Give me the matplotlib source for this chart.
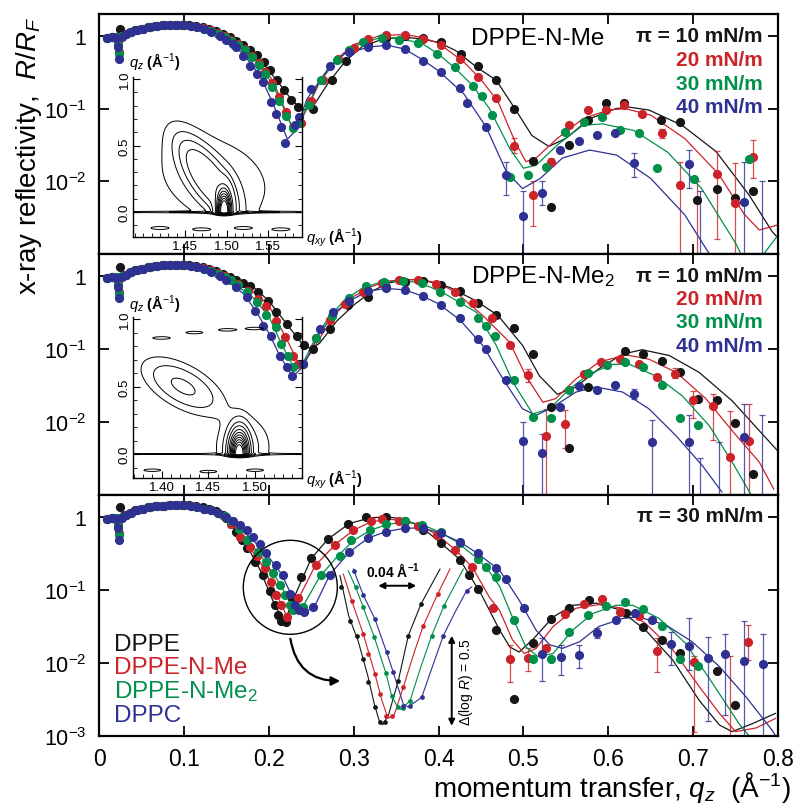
import numpy as np
import matplotlib
matplotlib.use('Agg')
import matplotlib.pyplot as plt
from matplotlib.patches import Ellipse, FancyArrowPatch
from matplotlib.ticker import NullLocator, MultipleLocator

plt.rcParams['font.family'] = ['Liberation Sans', 'DejaVu Sans']
plt.rcParams['mathtext.fontset'] = 'custom'
plt.rcParams['mathtext.rm'] = 'Liberation Sans'
plt.rcParams['mathtext.it'] = 'Liberation Sans:italic'
plt.rcParams['mathtext.bf'] = 'Liberation Sans:bold'

# ---------------- colours ----------------
C_K, C_R, C_G, C_B = '#161616', '#cc2229', '#00904a', '#2e3192'

# ================= DATA (log10 of R/R_F) =================
# ---- top panel: DPPE-N-Me, pi = 10, 20, 30, 40 mN/m ----
top_k_q = [.010,.015,.020,.025,.030,.036,.042,.050,.058,.066,.074,.082,.090,.098,.106,.114,.122,.130,.138,.146,.154,.162,.170,.178,.186,.194,.202,.210,.218,.226,.234,.252,.274,.291,.317,.338,.360,.382,.403,.427,.446,.468,.489,.511,.533,.554,.576,.597,.619,.662,.684,.705,.728,.749,.771]
top_k_logR = [-.03,-.02,-.01,.10,.02,.05,.08,.10,.12,.135,.145,.15,.155,.155,.15,.14,.12,.10,.07,.03,-.01,-.064,-.12,-.19,-.26,-.36,-.47,-.6,-.74,-.88,-.98,-1.0,-.61,-.34,-.12,-.03,.0,-.03,-.087,-.25,-.42,-.6,-1.0,-1.72,-2.36,-1.5,-1.16,-.92,-.92,-1.16,-1.18,-2.26,-2.10,-2.23,-2.13]
top_r_q = [.010,.015,.020,.022,.024,.027,.032,.038,.045,.052,.060,.068,.076,.084,.092,.100,.108,.116,.124,.132,.140,.148,.156,.164,.172,.180,.188,.196,.204,.212,.220,.228,.238,.250,.264,.282,.300,.317,.338,.360,.382,.403,.425,.446,.468,.489,.511,.533,.554,.576,.597,.619,.640,.663,.684,.728,.749,.771]
top_r_logR = [-.03,-.02,-.02,-.1,-.22,.0,.02,.05,.08,.10,.12,.135,.145,.15,.155,.15,.14,.125,.105,.08,.04,.0,-.05,-.11,-.18,-.27,-.37,-.5,-.65,-.84,-1.05,-1.25,-1.2,-.9,-.6,-.32,-.17,-.04,.014,.018,-.04,-.13,-.32,-.57,-.86,-1.52,-2.19,-1.73,-1.23,-1.02,-1.02,-.945,-1.08,-1.34,-2.05,-1.90,-2.30,-1.66]
top_g_q = [.010,.015,.020,.022,.024,.027,.032,.038,.045,.052,.060,.068,.076,.084,.092,.100,.108,.116,.124,.132,.140,.148,.156,.164,.172,.180,.188,.196,.204,.212,.220,.228,.236,.247,.262,.280,.295,.311,.333,.354,.376,.398,.420,.441,.451,.463,.484,.506,.527,.549,.571,.593,.614,.636,.658,.701,.766]
top_g_logR = [-.03,-.02,-.02,-.12,-.25,.0,.02,.05,.08,.10,.12,.135,.145,.15,.155,.15,.14,.125,.10,.07,.03,-.02,-.07,-.13,-.2,-.29,-.4,-.53,-.7,-.9,-1.1,-1.27,-1.2,-.95,-.6,-.33,-.2,-.087,-.03,-.05,-.10,-.25,-.43,-.69,-.83,-1.09,-1.94,-1.91,-1.80,-1.32,-1.18,-1.11,-1.30,-1.34,-1.82,-1.97,-1.70]
top_b_q = [.010,.015,.020,.022,.024,.027,.032,.038,.045,.052,.060,.068,.076,.084,.092,.100,.108,.116,.124,.132,.142,.150,.158,.162,.170,.178,.186,.193,.203,.209,.215,.219,.231,.236,.250,.272,.295,.317,.338,.360,.382,.403,.425,.434,.456,.480,.499,.522,.543,.565,.587,.608,.630,.695,.760]
top_b_logR = [-.03,-.02,-.03,-.15,-.32,-.02,.02,.05,.08,.10,.12,.135,.145,.15,.15,.145,.135,.12,.09,.06,.004,-.05,-.11,-.155,-.28,-.41,-.52,-.63,-.91,-1.07,-1.25,-1.48,-1.23,-1.11,-.73,-.41,-.22,-.155,-.13,-.18,-.34,-.50,-.72,-.92,-1.26,-1.91,-2.48,-2.16,-1.57,-1.45,-1.37,-1.33,-1.75,-1.76,-2.29]

top_k_fit_q = [.10,.13,.15,.17,.19,.21,.225,.24,.255,.27,.29,.31,.335,.36,.38,.40,.42,.445,.468,.49,.51,.53,.55,.578,.609,.625,.648,.687,.727,.766,.793,.80]
top_k_fit_logR = [.15,.1,.02,-.12,-.33,-.62,-.85,-1.03,-.92,-.65,-.35,-.15,-.04,-.02,-.04,-.09,-.2,-.43,-.61,-1.0,-1.37,-1.52,-1.41,-1.14,-1.0,-.98,-1.02,-1.23,-1.59,-2.19,-2.69,-2.78]
top_r_fit_q = [.10,.13,.15,.17,.19,.205,.218,.228,.24,.26,.28,.30,.33,.36,.38,.40,.43,.45,.47,.49,.503,.515,.54,.57,.60,.62,.65,.69,.73,.76,.778,.80]
top_r_fit_logR = [.15,.09,.0,-.15,-.37,-.62,-.98,-1.27,-1.12,-.64,-.32,-.12,.0,.02,-.02,-.1,-.36,-.6,-.9,-1.45,-1.73,-1.68,-1.41,-1.14,-1.02,-1.0,-1.09,-1.41,-1.9,-2.45,-2.67,-2.6]
top_g_fit_q = [.10,.13,.15,.17,.19,.205,.218,.228,.24,.26,.28,.30,.33,.35,.38,.40,.42,.44,.46,.484,.50,.515,.54,.57,.593,.63,.67,.71,.75,.765,.78,.80]
top_g_fit_logR = [.15,.09,.0,-.17,-.4,-.68,-1.0,-1.27,-1.1,-.62,-.33,-.14,-.03,-.03,-.1,-.25,-.45,-.68,-1.0,-1.55,-1.82,-1.78,-1.5,-1.23,-1.21,-1.3,-1.6,-2.1,-2.85,-3.2,-3.05,-2.74]
top_b_fit_q = [.10,.13,.15,.17,.19,.205,.215,.222,.232,.245,.27,.29,.32,.34,.36,.38,.40,.43,.456,.48,.499,.52,.546,.578,.61,.65,.69,.717,.73]
top_b_fit_logR = [.15,.07,-.04,-.25,-.55,-.93,-1.22,-1.42,-1.3,-.87,-.45,-.24,-.15,-.13,-.18,-.32,-.48,-.8,-1.25,-1.87,-2.1,-1.96,-1.68,-1.57,-1.64,-1.96,-2.46,-2.96,-3.2]

top_r_err_q = [.489,.511,.533,.663,.684,.705,.728,.749,.771]
top_r_err_lo = [-1.61,-2.62,-1.78,-1.40,-3.3,-3.3,-2.79,-3.3,-1.96]
top_r_err_hi = [-1.40,-2.0,-1.68,-1.28,-1.73,-2.0,-1.59,-1.75,-1.43]
top_b_err_q = [.480,.499,.522,.630,.695,.708,.760,.781]
top_b_err_lo = [-2.19,-3.3,-2.32,-1.94,-2.09,-3.3,-3.3,-3.3]
top_b_err_hi = [-1.73,-2.14,-2.0,-1.61,-1.57,-2.14,-1.73,-2.0]

# ---- middle panel: DPPE-N-Me2 ----
mid_k_q = [.010,.015,.020,.025,.030,.036,.042,.050,.058,.066,.074,.082,.090,.098,.106,.114,.122,.130,.138,.146,.154,.162,.170,.178,.187,.199,.209,.221,.233,.242,.252,.272,.293,.317,.338,.360,.382,.403,.425,.446,.468,.489,.511,.533,.554,.576,.620,.641,.663,.684,.706,.728,.749,.771]
mid_k_logR = [-.03,-.02,-.01,.12,.02,.05,.08,.10,.12,.135,.145,.15,.155,.155,.15,.14,.12,.10,.07,.03,-.01,-.06,-.1,-.14,-.22,-.34,-.5,-.66,-.82,-.95,-1.0,-.73,-.4,-.29,-.15,-.08,-.07,-.12,-.2,-.37,-.54,-.71,-1.07,-1.79,-2.35,-1.52,-1.03,-1.07,-1.16,-1.31,-1.68,-1.70,-2.01,-2.71]
mid_r_q = [.010,.015,.020,.022,.024,.027,.032,.038,.045,.052,.060,.068,.076,.084,.092,.100,.108,.116,.124,.132,.140,.148,.156,.164,.176,.187,.197,.209,.219,.229,.234,.240,.256,.272,.290,.311,.333,.354,.376,.397,.419,.441,.463,.484,.506,.527,.549,.571,.592,.614,.636,.657,.679,.700,.723,.744,.766]
mid_r_logR = [-.03,-.02,-.02,-.1,-.22,.0,.02,.05,.08,.10,.12,.135,.145,.15,.155,.15,.14,.125,.105,.08,.04,.0,-.05,-.11,-.2,-.32,-.41,-.61,-.84,-1.09,-1.21,-1.2,-.85,-.6,-.38,-.22,-.09,-.055,-.05,-.105,-.22,-.37,-.57,-.95,-1.36,-2.19,-2.03,-1.34,-1.18,-1.14,-1.21,-1.39,-1.34,-1.70,-1.78,-2.48,-2.26]
mid_g_q = [.010,.015,.020,.022,.024,.027,.032,.038,.045,.052,.060,.068,.076,.084,.092,.100,.108,.116,.124,.132,.140,.148,.156,.164,.174,.186,.197,.209,.215,.223,.229,.240,.256,.275,.295,.315,.336,.358,.381,.402,.425,.446,.456,.467,.489,.511,.533,.554,.576,.598,.620,.641,.663,.684,.706]
mid_g_logR = [-.03,-.02,-.02,-.12,-.25,.0,.02,.05,.08,.10,.12,.135,.145,.15,.155,.15,.14,.125,.10,.07,.03,-.01,-.06,-.12,-.22,-.36,-.54,-.70,-.93,-1.09,-1.25,-1.2,-.85,-.55,-.3,-.14,-.08,-.07,-.10,-.22,-.35,-.58,-.68,-.82,-1.42,-1.93,-1.94,-1.56,-1.33,-1.22,-1.18,-1.25,-1.50,-1.95,-2.04]
mid_b_q = [.010,.015,.020,.022,.024,.027,.032,.038,.045,.052,.060,.068,.076,.084,.092,.100,.108,.116,.124,.132,.142,.150,.162,.174,.184,.193,.203,.213,.221,.227,.240,.260,.276,.295,.317,.338,.360,.382,.403,.425,.446,.456,.479,.500,.522,.543,.565,.587,.608,.630,.651,.695,.760]
mid_b_logR = [-.03,-.02,-.03,-.15,-.30,-.02,.02,.05,.08,.10,.12,.135,.145,.15,.15,.145,.135,.12,.09,.06,.0,-.06,-.15,-.29,-.48,-.68,-.82,-1.09,-1.25,-1.37,-1.2,-.73,-.5,-.34,-.21,-.17,-.19,-.27,-.40,-.57,-.86,-1.0,-1.43,-2.26,-2.43,-1.80,-1.51,-1.56,-1.50,-1.62,-2.27,-2.27,-2.21]

mid_k_fit_q = [.10,.13,.15,.18,.20,.22,.24,.25,.26,.28,.30,.32,.34,.36,.38,.413,.444,.47,.499,.519,.54,.562,.589,.617,.64,.672,.707,.746,.778,.80]
mid_k_fit_logR = [.15,.1,.0,-.13,-.34,-.64,-.94,-1.0,-.92,-.62,-.4,-.22,-.1,-.05,-.05,-.155,-.34,-.54,-.95,-1.37,-1.62,-1.52,-1.27,-1.07,-1.01,-1.09,-1.32,-1.71,-2.12,-2.4]
mid_r_fit_q = [.10,.13,.15,.18,.20,.22,.237,.25,.26,.28,.30,.32,.34,.36,.38,.40,.42,.452,.484,.503,.523,.538,.562,.589,.621,.648,.68,.715,.746,.778,.795]
mid_r_fit_logR = [.15,.1,-.02,-.2,-.4,-.84,-1.24,-1.05,-.85,-.5,-.28,-.15,-.07,-.05,-.05,-.1,-.22,-.54,-.91,-1.37,-1.73,-1.68,-1.41,-1.18,-1.08,-1.14,-1.32,-1.68,-2.12,-2.55,-2.92]
mid_g_fit_q = [.10,.13,.15,.18,.20,.215,.23,.24,.255,.27,.29,.31,.33,.35,.37,.39,.41,.445,.468,.488,.511,.531,.554,.578,.605,.625,.656,.687,.719,.746,.77]
mid_g_fit_logR = [.15,.1,-.03,-.28,-.55,-.93,-1.27,-1.2,-.85,-.58,-.32,-.17,-.09,-.07,-.08,-.15,-.26,-.5,-.95,-1.46,-1.89,-1.82,-1.55,-1.34,-1.21,-1.21,-1.37,-1.64,-2.05,-2.55,-3.03]
mid_b_fit_q = [.10,.13,.15,.17,.185,.20,.213,.228,.24,.26,.28,.295,.317,.338,.36,.38,.40,.425,.452,.476,.499,.515,.534,.562,.585,.617,.648,.68,.711,.734]
mid_b_fit_logR = [.15,.08,-.06,-.24,-.48,-.78,-1.09,-1.38,-1.25,-.78,-.48,-.34,-.21,-.17,-.19,-.27,-.38,-.6,-.95,-1.41,-1.82,-1.91,-1.80,-1.59,-1.52,-1.59,-1.82,-2.19,-2.60,-2.96]

mid_r_err_q = [.506,.527,.549,.679,.700,.723,.744,.766]
mid_r_err_lo = [-1.45,-3.3,-2.36,-1.40,-1.95,-2.24,-3.3,-3.3]
mid_r_err_hi = [-1.28,-1.82,-1.84,-1.26,-1.57,-1.62,-1.85,-1.75]
mid_b_err_q = [.500,.522,.630,.651,.695,.708,.730,.760,.781]
mid_b_err_lo = [-3.3,-3.3,-1.68,-3.3,-3.3,-3.3,-3.3,-3.3,-3.3]
mid_b_err_hi = [-2.0,-2.16,-1.55,-1.97,-1.91,-2.5,-2.27,-1.75,-1.91]

# ---- bottom panel: pi = 30 mN/m, four lipids ----
bot_k_q = [.010,.015,.020,.025,.030,.036,.042,.050,.058,.066,.074,.082,.090,.098,.106,.114,.122,.130,.138,.146,.150,.156,.162,.168,.174,.184,.193,.201,.207,.211,.215,.220,.227,.238,.250,.270,.293,.315,.338,.360,.382,.403,.425,.436,.446,.468,.489,.511,.533,.554,.577,.621,.641,.663,.684,.728,.749]
bot_k_logR = [-.03,-.02,-.01,.14,.03,.06,.09,.11,.13,.145,.155,.16,.165,.165,.16,.15,.13,.11,.08,.03,-.02,-.1,-.2,-.31,-.43,-.61,-.79,-1.02,-1.21,-1.34,-1.43,-1.44,-1.11,-.82,-.56,-.3,-.1,.0,.0,-.05,-.18,-.36,-.59,-.79,-.98,-1.55,-2.50,-1.73,-1.40,-1.25,-1.14,-1.32,-1.51,-1.68,-1.86,-2.11,-2.58]
bot_r_q = [.010,.015,.020,.022,.024,.027,.032,.038,.045,.052,.060,.068,.076,.084,.092,.100,.108,.116,.124,.132,.140,.148,.156,.166,.178,.186,.195,.203,.209,.215,.221,.234,.256,.278,.299,.321,.333,.354,.376,.398,.419,.440,.464,.484,.505,.527,.549,.571,.593,.614,.636,.658,.701,.765]
bot_r_logR = [-.03,-.02,-.02,-.1,-.22,.0,.03,.06,.09,.11,.13,.145,.155,.16,.165,.16,.15,.135,.115,.09,.05,.0,-.1,-.27,-.41,-.54,-.70,-.89,-1.07,-1.21,-1.37,-1.11,-.66,-.38,-.18,-.06,-.03,-.06,-.12,-.25,-.45,-.69,-1.25,-1.94,-1.93,-1.80,-1.33,-1.19,-1.12,-1.30,-1.36,-1.83,-1.99,-1.71]
bot_g_q = [.010,.015,.020,.022,.024,.027,.032,.038,.045,.052,.060,.068,.076,.084,.092,.100,.108,.116,.124,.132,.140,.148,.156,.165,.174,.187,.197,.205,.213,.219,.225,.229,.240,.262,.284,.297,.319,.338,.360,.381,.403,.425,.446,.456,.468,.489,.511,.533,.554,.576,.597,.620,.641,.663,.684,.706]
bot_g_logR = [-.03,-.02,-.02,-.12,-.25,.0,.03,.06,.09,.11,.13,.145,.155,.16,.165,.16,.15,.135,.115,.09,.05,.01,-.05,-.16,-.32,-.48,-.61,-.77,-.93,-1.07,-1.21,-1.27,-1.23,-.79,-.54,-.32,-.18,-.09,-.06,-.11,-.2,-.35,-.57,-.68,-.82,-1.41,-1.94,-1.94,-1.57,-1.34,-1.22,-1.17,-1.26,-1.50,-1.95,-2.04]
bot_b_q = [.010,.015,.020,.022,.024,.027,.032,.038,.045,.052,.060,.068,.076,.084,.092,.100,.108,.116,.124,.132,.140,.150,.158,.166,.174,.182,.190,.197,.209,.217,.225,.231,.236,.242,.252,.272,.295,.317,.338,.360,.382,.403,.425,.446,.468,.479,.501,.522,.544,.565,.587,.609,.631,.652,.674,.695,.717,.738,.760,.782]
bot_b_logR = [-.03,-.02,-.03,-.15,-.32,-.02,.03,.06,.09,.11,.13,.145,.155,.16,.165,.16,.15,.135,.115,.09,.06,.0,-.05,-.11,-.18,-.27,-.37,-.5,-.66,-.79,-1.05,-1.21,-1.27,-1.30,-1.23,-.79,-.48,-.29,-.2,-.155,-.155,-.22,-.34,-.5,-.70,-.85,-1.24,-1.87,-1.92,-1.89,-1.59,-1.41,-1.31,-1.41,-1.74,-1.77,-1.93,-1.88,-1.97,-2.01]

bot_k_fit_q = [.10,.13,.15,.17,.19,.205,.218,.23,.25,.27,.295,.32,.34,.36,.38,.40,.425,.45,.472,.484,.495,.511,.535,.558,.586,.613,.644,.676,.707,.731,.746,.77,.797]
bot_k_fit_logR = [.16,.11,-.03,-.3,-.73,-1.15,-1.45,-1.1,-.57,-.3,-.09,-.01,.0,-.03,-.14,-.33,-.58,-1.05,-1.55,-1.78,-1.85,-1.68,-1.37,-1.21,-1.18,-1.27,-1.55,-1.96,-2.51,-2.85,-2.94,-2.83,-2.69]
bot_r_fit_q = [.10,.13,.15,.17,.19,.205,.222,.235,.255,.28,.30,.32,.34,.36,.38,.40,.42,.44,.46,.472,.487,.501,.515,.535,.562,.589,.617,.644,.676,.707,.731,.75,.774,.797]
bot_r_fit_logR = [.16,.11,.0,-.3,-.62,-.95,-1.38,-1.12,-.66,-.36,-.18,-.07,-.03,-.05,-.12,-.26,-.45,-.69,-1.1,-1.28,-1.68,-1.87,-1.80,-1.50,-1.25,-1.20,-1.25,-1.46,-1.82,-2.32,-2.69,-2.94,-2.89,-2.76]
bot_g_fit_q = [.10,.13,.15,.17,.19,.21,.23,.24,.26,.28,.30,.32,.34,.36,.38,.40,.42,.446,.46,.472,.487,.503,.517,.535,.558,.582,.609,.629,.66,.691,.723,.754,.766]
bot_g_fit_logR = [.16,.11,.0,-.25,-.52,-.86,-1.27,-1.23,-.82,-.55,-.32,-.18,-.1,-.07,-.1,-.2,-.33,-.57,-.75,-.95,-1.37,-1.78,-1.91,-1.87,-1.55,-1.32,-1.21,-1.21,-1.39,-1.73,-2.28,-2.83,-3.0]
bot_b_fit_q = [.10,.13,.15,.18,.20,.215,.228,.242,.255,.272,.295,.317,.338,.36,.38,.40,.425,.446,.472,.495,.515,.531,.546,.566,.589,.617,.636,.668,.699,.731,.762,.793,.80]
bot_b_fit_logR = [.16,.1,.0,-.3,-.55,-.78,-1.1,-1.32,-1.2,-.79,-.48,-.29,-.2,-.155,-.15,-.21,-.34,-.5,-.73,-1.14,-1.55,-1.75,-1.80,-1.71,-1.50,-1.39,-1.37,-1.48,-1.71,-2.05,-2.46,-2.92,-3.05]

bot_r_err_q = [.484,.505,.658,.701,.744,.765]
bot_r_err_lo = [-2.26,-2.11,-2.13,-2.94,-3.3,-1.96]
bot_r_err_hi = [-1.75,-1.80,-1.66,-1.91,-1.90,-1.48]
bot_b_err_q = [.522,.544,.565,.587,.674,.695,.717,.738,.760,.782]
bot_b_err_lo = [-2.25,-2.16,-2.07,-1.66,-2.03,-2.10,-2.79,-2.71,-3.01,-3.01]
bot_b_err_hi = [-1.66,-1.75,-1.75,-1.52,-1.58,-1.39,-1.64,-1.60,-1.43,-1.60]

# ---- magnified view of the first minimum (bottom panel) ----
mag_k_q = [.172,.1814,.1885,.1954,.2007,.2077,.213,.2183,.2323,.2428,.2562]
mag_k_logR = [-.682,-.867,-.95,-1.08,-1.21,-1.348,-1.432,-1.432,-1.20,-.95,-.774]
mag_k_fit_q = [.1709,.18,.19,.20,.207,.212,.216,.222,.2323,.2428,.2562,.2762]
mag_k_fit_logR = [-.617,-.84,-.98,-1.17,-1.33,-1.42,-1.445,-1.39,-1.20,-.95,-.774,-.58]
mag_r_q = [.1832,.1954,.2007,.2077,.213,.219,.2253,.2375,.2586,.2737]
mag_r_logR = [-.756,-.941,-1.052,-1.163,-1.274,-1.398,-1.398,-1.237,-.895,-.719]
mag_r_fit_q = [.1744,.1832,.1954,.2077,.215,.2215,.228,.2375,.2486,.2586,.2737,.2867]
mag_r_fit_logR = [-.608,-.756,-.941,-1.163,-1.31,-1.41,-1.39,-1.237,-1.05,-.895,-.719,-.58]
mag_g_q = [.1874,.1954,.2071,.2193,.2253,.2316,.2375,.2446,.2674,.2804]
mag_g_logR = [-.682,-.793,-.96,-1.16,-1.284,-1.348,-1.352,-1.312,-.95,-.784]
mag_g_fit_q = [.1796,.1874,.1954,.2071,.2193,.2253,.2316,.235,.2446,.2556,.2674,.2804,.3007]
mag_g_fit_logR = [-.59,-.682,-.793,-.96,-1.16,-1.284,-1.348,-1.36,-1.312,-1.13,-.95,-.784,-.58]
mag_b_q = [.1856,.1954,.2077,.2200,.2270,.2375,.2446,.2569,.2797,.3042]
mag_b_logR = [-.59,-.725,-.858,-1.043,-1.154,-1.339,-1.339,-1.293,-.95,-.70]
mag_b_fit_q = [.1849,.1954,.2077,.2200,.2270,.2375,.242,.2446,.2569,.2683,.2797,.2920,.3042,.3095]
mag_b_fit_logR = [-.58,-.725,-.858,-1.043,-1.154,-1.33,-1.345,-1.339,-1.293,-1.12,-.95,-.82,-.70,-.68]

# ---- GIXD inset peak descriptions: (qxy, qz, width_xy, width_z, amplitude, tilt) ----
gix1_peaks = [(1.497, 0.0, 0.0055, 0.10, 1.0, 0.0),
              (1.478, 0.25, 0.015, 0.20, 0.16, -0.09),
              (1.485, 0.25, 0.05, 0.25, 0.05, -0.05)]
gix1_noise = [(1.42, -0.12), (1.47, -0.13), (1.52, -0.12), (1.565, -0.13)]
gix1_levels = [0.025, 0.05, 0.08, 0.12, 0.25, 0.35, 0.45, 0.55, 0.65, 0.75, 0.85]
gix2_peaks = [(1.483, 0.0, 0.0065, 0.11, 1.0, 0.0),
              (1.487, 0.05, 0.018, 0.14, 0.10, 0.0),
              (1.423, 0.5, 0.02, 0.12, 0.16, -0.12)]
gix2_noise = [(1.40, 0.86), (1.435, 0.90), (1.47, 0.92), (1.50, 0.93), (1.39, -0.12), (1.45, -0.13), (1.50, -0.12)]
gix2_levels = [0.03, 0.07, 0.14, 0.22, 0.32, 0.42, 0.52, 0.62, 0.72, 0.82, 0.92]

# ================= FIGURE =================
W, H = 797, 804
fig = plt.figure(figsize=(W / 100, H / 100), dpi=100)


def fx(px):
    return px / W


def fy(py):
    return 1 - py / H


def box(x0, y0, x1, y1):
    return [fx(x0), fy(y1), (x1 - x0) / W, (y1 - y0) / H]


def L(v):
    return 10.0 ** np.asarray(v, dtype=float)


ax_top = fig.add_axes(box(99, 15, 778, 255))
ax_mid = fig.add_axes(box(99, 255, 778, 496))
ax_bot = fig.add_axes(box(99, 496, 778, 737))
axes = [ax_top, ax_mid, ax_bot]

for i, ax in enumerate(axes):
    ax.set_xlim(0, 0.8)
    ax.set_yscale('log')
    ax.set_ylim(1e-3, 2.0)
    ax.set_xticks(np.round(np.arange(0, 0.81, 0.1), 1))
    ax.set_yticks([1e-3, 1e-2, 1e-1, 1])
    ax.yaxis.set_minor_locator(NullLocator())
    ax.tick_params(direction='in', length=7, width=1.3, top=True, right=True)
    ax.tick_params(axis='y', labelsize=15.5, pad=9)
    ax.tick_params(axis='x', labelsize=16.5, pad=8)
    if i < 2:
        ax.set_yticklabels(['', '$10^{-2}$', '$10^{-1}$', '1'])
        ax.tick_params(labelbottom=False)
    else:
        ax.set_yticklabels(['$10^{-3}$', '$10^{-2}$', '$10^{-1}$', '1'])
        ax.set_xticklabels(['0', '0.1', '0.2', '0.3', '0.4', '0.5', '0.6', '0.7', '0.8'])
    for s in ax.spines.values():
        s.set_linewidth(1.6)


def series(ax, q, lr, fq, flr, c, z, eq=None, elo=None, ehi=None, ms=6.6):
    ax.plot(fq, L(flr), '-', color=c, lw=0.9, zorder=2)
    if eq is not None:
        ax.vlines(eq, L(elo), L(ehi), color=c, lw=0.9, alpha=0.8, zorder=2)
        ax.plot(eq, L(ehi), '_', color=c, ms=5, mew=0.9, alpha=0.8, ls='none', zorder=2)
        ax.plot(eq, L(elo), '_', color=c, ms=5, mew=0.9, alpha=0.8, ls='none', zorder=2)
    ax.plot(q, L(lr), 'o', color=c, ms=ms, mec='none', ls='none', zorder=z)


series(ax_top, top_k_q, top_k_logR, top_k_fit_q, top_k_fit_logR, C_K, 3)
series(ax_top, top_r_q, top_r_logR, top_r_fit_q, top_r_fit_logR, C_R, 4, top_r_err_q, top_r_err_lo, top_r_err_hi)
series(ax_top, top_g_q, top_g_logR, top_g_fit_q, top_g_fit_logR, C_G, 5)
series(ax_top, top_b_q, top_b_logR, top_b_fit_q, top_b_fit_logR, C_B, 6, top_b_err_q, top_b_err_lo, top_b_err_hi)

series(ax_mid, mid_k_q, mid_k_logR, mid_k_fit_q, mid_k_fit_logR, C_K, 3)
series(ax_mid, mid_r_q, mid_r_logR, mid_r_fit_q, mid_r_fit_logR, C_R, 4, mid_r_err_q, mid_r_err_lo, mid_r_err_hi)
series(ax_mid, mid_g_q, mid_g_logR, mid_g_fit_q, mid_g_fit_logR, C_G, 5)
series(ax_mid, mid_b_q, mid_b_logR, mid_b_fit_q, mid_b_fit_logR, C_B, 6, mid_b_err_q, mid_b_err_lo, mid_b_err_hi)

series(ax_bot, bot_k_q, bot_k_logR, bot_k_fit_q, bot_k_fit_logR, C_K, 3)
series(ax_bot, bot_r_q, bot_r_logR, bot_r_fit_q, bot_r_fit_logR, C_R, 4, bot_r_err_q, bot_r_err_lo, bot_r_err_hi)
series(ax_bot, bot_g_q, bot_g_logR, bot_g_fit_q, bot_g_fit_logR, C_G, 5)
series(ax_bot, bot_b_q, bot_b_logR, bot_b_fit_q, bot_b_fit_logR, C_B, 6, bot_b_err_q, bot_b_err_lo, bot_b_err_hi)

# ---------------- panel texts ----------------
fig.text(fx(471), fy(39), 'DPPE-N-Me', fontsize=17.5, va='center', ha='left')
fig.text(fx(471), fy(277), 'DPPE-N-Me$_2$', fontsize=17.5, va='center', ha='left')
pi_labels = ['π = 10 mN/m', '20 mN/m', '30 mN/m', '40 mN/m']
pi_cols = [C_K, C_R, C_G, C_B]
for lab, c, y0, y1 in zip(pi_labels, pi_cols, [37, 61, 84, 108], [277, 300, 323, 347]):
    fig.text(fx(763), fy(y0), lab, fontsize=15, fontweight='bold', color=c, ha='right', va='center')
    fig.text(fx(763), fy(y1), lab, fontsize=15, fontweight='bold', color=c, ha='right', va='center')
fig.text(fx(763), fy(517), 'π = 30 mN/m', fontsize=15, fontweight='bold', color=C_K, ha='right', va='center')

lipids = ['DPPE', 'DPPE-N-Me', 'DPPE-N-Me$_2$', 'DPPC']
for lab, c, y in zip(lipids, pi_cols, [645, 668, 692, 716]):
    fig.text(fx(114), fy(y), lab, fontsize=17.5, color=c, ha='left', va='center')

fig.text(fx(29), fy(156), r'x-ray reflectivity,  $R/R_F$', rotation=90, fontsize=20,
         ha='center', va='center')
fig.text(fx(791), fy(797), r'momentum transfer, $q_z$  (Å$^{-1}$)', fontsize=20,
         ha='right', va='baseline')


# ---------------- GIXD insets ----------------
def gixd(rect, xlim, ylim, peaks, noise, levels, xt, lab_xy, lab_z):
    ins = fig.add_axes(rect)
    ins.patch.set_alpha(0)
    qx = np.linspace(xlim[0], xlim[1], 400)
    qz = np.linspace(ylim[0], ylim[1], 400)
    QX, QZ = np.meshgrid(qx, qz)
    Z = np.zeros_like(QX)
    for cx, cz, sx, sz, a, tilt in peaks:
        u = QX - (cx + tilt * (QZ - cz))
        Z += a * np.exp(-0.5 * (u / sx) ** 2 - 0.5 * ((QZ - cz) / sz) ** 2)
    Z *= np.where(QZ < 0, np.exp(-(QZ / 0.015) ** 2), 1.0)
    Z += 1.5 * levels[0] * np.exp(-0.5 * (QZ / 0.004) ** 2)
    for nx, nz in noise:
        Z += 0.045 * np.exp(-0.5 * ((QX - nx) / 0.01) ** 2 - 0.5 * ((QZ - nz) / 0.01) ** 2)
    ins.contour(QX, QZ, Z, levels=levels, colors='k', linewidths=0.7)
    ins.set_xlim(*xlim)
    ins.set_ylim(*ylim)
    ins.spines['top'].set_visible(False)
    for s in ['left', 'bottom', 'right']:
        ins.spines[s].set_linewidth(1.0)
    ins.set_xticks(xt)
    ins.set_xticklabels(['%.2f' % v for v in xt])
    ins.xaxis.set_minor_locator(MultipleLocator(0.01))
    ins.set_yticks([0.0, 0.5, 1.0])
    ins.set_yticklabels(['0.0', '0.5', '1.0'], rotation=90, va='center')
    ins.yaxis.set_minor_locator(MultipleLocator(0.1))
    ins.tick_params(which='both', direction='in', right=True, top=False, labelsize=9.5, pad=2)
    ins.tick_params(which='major', length=5, width=0.8)
    ins.tick_params(which='minor', length=3, width=0.6)
    fig.text(fx(lab_z[0]), fy(lab_z[1]), r'$q_z$ (Å$^{-1}$)', fontsize=10.5, fontweight='bold', va='center')
    fig.text(fx(lab_xy[0]), fy(lab_xy[1]), r'$q_{xy}$ (Å$^{-1}$)', fontsize=10.5, fontweight='bold', va='center')
    return ins


gixd(box(133.3, 78.3, 301.7, 238.3), (1.388, 1.590), (-0.19, 1.013), gix1_peaks, gix1_noise,
     gix1_levels, [1.45, 1.50, 1.55], (306, 238), (129, 62))
gixd(box(133.3, 318.3, 301.7, 479.3), (1.3696, 1.55), (-0.18, 1.013), gix2_peaks, gix2_noise,
     gix2_levels, [1.40, 1.45, 1.50], (306, 480), (129, 303))

# ---------------- magnified minimum (bottom panel) ----------------
mag = fig.add_axes(box(329.65, 564.6, 481.65, 730.2))
mag.set_axis_off()
mag.set_yscale('log')
mag.set_xlim(0.16, 0.32)
mag.set_ylim(10 ** -1.47, 10 ** -0.55)
for q, lr, fq, flr, c, z in [(mag_k_q, mag_k_logR, mag_k_fit_q, mag_k_fit_logR, C_K, 3),
                             (mag_r_q, mag_r_logR, mag_r_fit_q, mag_r_fit_logR, C_R, 4),
                             (mag_g_q, mag_g_logR, mag_g_fit_q, mag_g_fit_logR, C_G, 5),
                             (mag_b_q, mag_b_logR, mag_b_fit_q, mag_b_fit_logR, C_B, 6)]:
    mag.plot(fq, L(flr), '-', color=c, lw=0.8, zorder=2, clip_on=False)
    mag.plot(q, L(lr), 'o', color=c, ms=3.4, mec='none', ls='none', zorder=z, clip_on=False)

mag.annotate('', xy=(0.2512, 10 ** -0.673), xytext=(0.2112, 10 ** -0.673),
             arrowprops=dict(arrowstyle='<|-|>', color='k', lw=1.4, mutation_scale=9,
                             shrinkA=0, shrinkB=0), annotation_clip=False)
mag.annotate('', xy=(0.2885, 10 ** -0.951), xytext=(0.2885, 10 ** -1.451),
             arrowprops=dict(arrowstyle='<|-|>', color='k', lw=1.4, mutation_scale=9,
                             shrinkA=0, shrinkB=0), annotation_clip=False)
fig.text(fx(393), fy(571), '0.04 Å$^{\\mathbf{-1}}$', fontsize=10, fontweight='bold', ha='center', va='center')
fig.text(fx(466), fy(682), r'Δ(log $R$) = 0.5', fontsize=10, rotation=90, ha='center', va='center')

circ = Ellipse((fx(290.3), fy(588.3)), 94 / W, 94 / H, transform=fig.transFigure,
               fill=False, edgecolor='k', lw=1.0, zorder=10)
fig.add_artist(circ)
arr = FancyArrowPatch((fx(290), fy(637)), (fx(343), fy(682)), transform=fig.transFigure,
                      connectionstyle='arc3,rad=0.45', arrowstyle='-|>', mutation_scale=13,
                      lw=1.6, color='k')
fig.add_artist(arr)

fig.savefig('out.png', dpi=100)
